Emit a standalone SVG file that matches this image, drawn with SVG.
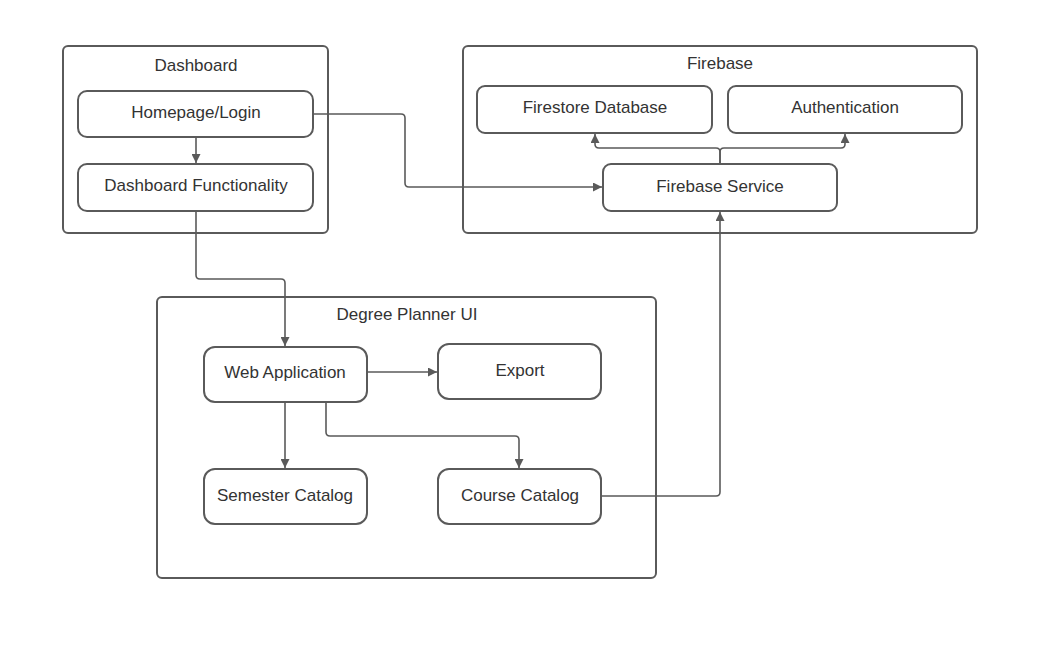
<svg xmlns="http://www.w3.org/2000/svg" width="1040" height="672" viewBox="0 0 1040 672">
<style>
.container{fill:#fff;stroke:#5a5a5a;stroke-width:2}
.node{fill:#fff;stroke:#5a5a5a;stroke-width:2}
.lbl{font-family:"Liberation Sans",Arial,sans-serif;font-size:17px;fill:#333;text-anchor:middle}
.conn{fill:none;stroke:#5a5a5a;stroke-width:1.6;stroke-linejoin:round}
</style>
<defs>
<marker id="arr" viewBox="0 0 10 10" refX="10" refY="5" markerWidth="10" markerHeight="9" markerUnits="userSpaceOnUse" orient="auto">
<path d="M0,0 L10,5 L0,10 z" fill="#5a5a5a"/>
</marker>
</defs>
<rect width="1040" height="672" fill="#fff"/>
<g id="dashboard">
<rect class="container" x="63" y="46" width="265" height="187" rx="5"/>
<text class="lbl" x="196" y="71">Dashboard</text>
</g>
<g id="firebase">
<rect class="container" x="463" y="46" width="514" height="187" rx="5"/>
<text class="lbl" x="720" y="69">Firebase</text>
</g>
<g id="degree-planner-ui">
<rect class="container" x="157" y="297" width="499" height="281" rx="5"/>
<text class="lbl" x="407" y="320">Degree Planner UI</text>
</g>
<g id="homepage-login">
<rect class="node" x="78" y="91" width="235" height="46" rx="9"/>
<text class="lbl" x="196" y="118">Homepage/Login</text>
</g>
<g id="dashboard-functionality">
<rect class="node" x="78" y="164" width="235" height="47" rx="9"/>
<text class="lbl" x="196" y="191">Dashboard Functionality</text>
</g>
<g id="firestore-database">
<rect class="node" x="477" y="86" width="235" height="47" rx="8"/>
<text class="lbl" x="595" y="113">Firestore Database</text>
</g>
<g id="authentication">
<rect class="node" x="728" y="86" width="234" height="47" rx="8"/>
<text class="lbl" x="845" y="113">Authentication</text>
</g>
<g id="firebase-service">
<rect class="node" x="603" y="164" width="234" height="47" rx="8"/>
<text class="lbl" x="720" y="192">Firebase Service</text>
</g>
<g id="web-application">
<rect class="node" x="204" y="347" width="163" height="55" rx="11"/>
<text class="lbl" x="285" y="378">Web Application</text>
</g>
<g id="export">
<rect class="node" x="438" y="344" width="163" height="55" rx="11"/>
<text class="lbl" x="520" y="376">Export</text>
</g>
<g id="semester-catalog">
<rect class="node" x="204" y="469" width="163" height="55" rx="11"/>
<text class="lbl" x="285" y="501">Semester Catalog</text>
</g>
<g id="course-catalog">
<rect class="node" x="438" y="469" width="163" height="55" rx="11"/>
<text class="lbl" x="520" y="501">Course Catalog</text>
</g>
<g id="connectors">
<path class="conn" d="M196,137 L196,163" marker-end="url(#arr)"/>
<path class="conn" d="M313,114 L401,114 Q405,114 405,118 L405,183 Q405,187 409,187 L602,187" marker-end="url(#arr)"/>
<path class="conn" d="M720,164 L720,152 Q720,148 716,148 L599,148 Q595,148 595,144 L595,134" marker-end="url(#arr)"/>
<path class="conn" d="M720,164 L720,152 Q720,148 724,148 L841,148 Q845,148 845,144 L845,134" marker-end="url(#arr)"/>
<path class="conn" d="M196,211 L196,275 Q196,279 200,279 L281,279 Q285,279 285,283 L285,346" marker-end="url(#arr)"/>
<path class="conn" d="M367,372 L437,372" marker-end="url(#arr)"/>
<path class="conn" d="M285,402 L285,468" marker-end="url(#arr)"/>
<path class="conn" d="M326,402 L326,432 Q326,436 330,436 L515,436 Q519,436 519,440 L519,468" marker-end="url(#arr)"/>
<path class="conn" d="M601,496 L716,496 Q720,496 720,492 L720,212" marker-end="url(#arr)"/>
</g>
</svg>
